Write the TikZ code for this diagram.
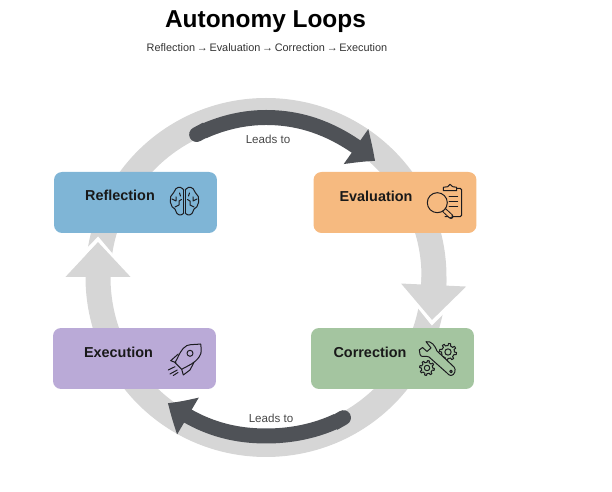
\documentclass[tikz,border=0pt]{standalone}
\usepackage{fontspec}
\setmainfont{Liberation Sans}
\usetikzlibrary{arrows.meta,bending}

\definecolor{ringgray}{HTML}{D6D6D6}
\definecolor{leadgray}{HTML}{4F5257}
\definecolor{iconink}{HTML}{1C1C20}
\definecolor{reflblue}{HTML}{7FB5D6}
\definecolor{evalorange}{HTML}{F6BA80}
\definecolor{corrgreen}{HTML}{A4C5A0}
\definecolor{execpurple}{HTML}{BAAAD7}

\newcommand{\gearicon}[4]{% x, y, radius, fill
    \draw[iconline,fill=#4] plot[domain=0:360,samples=97] ({#1+(#3+0.14*#3*(sin(8*\x)>0?1:-1))*cos(\x)},{#2+(#3+0.14*#3*(sin(8*\x)>0?1:-1))*sin(\x)}) -- cycle;
    \draw[iconline] (#1,#2) circle[radius=0.42*#3];
}

\begin{document}
\begin{tikzpicture}[x=0.02cm,y=-0.02cm]
    \tikzset{stagebox/.style={rectangle,rounded corners=0.16cm,minimum width=3.26cm,minimum height=1.22cm,inner sep=0pt}}
    \tikzset{stagename/.style={font=\fontsize{8.2}{10}\selectfont\bfseries,text=black!90,inner sep=0pt}}
    \tikzset{leadtext/.style={font=\fontsize{6.6}{8}\selectfont,text=black!72,inner sep=0pt}}
    \tikzset{iconline/.style={draw=iconink,line width=0.02cm,line join=round,line cap=round}}
    \tikzstyle{ringarc}=[draw=ringgray,line width=0.5cm]
    \tikzstyle{ringhead}=[draw=ringgray,line width=0.5cm,-{Triangle[width=1.26cm,length=0.7cm,fill=ringgray]}]
    \tikzstyle{notch}=[draw=white,line width=0.08cm,line join=miter]
    \tikzstyle{leadarc}=[draw=leadgray,line width=0.3cm,{Round Cap[]}-{Triangle[width=0.82cm,length=0.48cm,fill=leadgray,bend]}]
    \useasboundingbox (0,0) rectangle (612,492);

    \node[font=\fontsize{13.9}{17}\selectfont\bfseries,text=black,inner sep=0pt] (TITLE) at (265.5,22) {Autonomy Loops};
    \node[font=\fontsize{6.2}{8}\selectfont,text=black!80,inner sep=0pt] (SUB) at (267,48) {\spaceskip=1pt Reflection → Evaluation → Correction → Execution};

    % gray ring
    \coordinate (ringW) at (98,277);
    \coordinate (ringN) at (266,110.5);
    \coordinate (ringE) at (434,277);
    \coordinate (ringS) at (266,444.5);
    \draw[ringarc] (ringW) to[out=90,in=180] (ringN) to[out=0,in=90] (ringE) to[out=-90,in=0] (ringS) to[out=180,in=-90] (ringW);

    % notches in the ring, then the two gray heads
    \coordinate (tipE) at (432,320);
    \coordinate (tipW) at (98,242);
    \draw[notch] (412.4,298.2)--(432,322.5)--(451.4,303.4);
    \draw[notch] (78.6,259.6)--(98,239.5)--(119.5,265);
    \draw[ringhead] (ringE)--(tipE);
    \draw[ringhead] (ringW)--(tipW);

    % dark arrows
    \coordinate (leadAs) at (190,138);
    \coordinate (leadAm) at (266,117.5);
    \coordinate (leadAe) at (375,161);
    \draw[leadarc] (leadAs) to[out=29,in=180,looseness=0.87] (leadAm) to[out=0,in=140,looseness=0.92] (leadAe);
    \coordinate (leadBs) at (350,414);
    \coordinate (leadBm) at (266,436);
    \coordinate (leadBe) at (168,403);
    \draw[leadarc] (leadBs) to[out=211,in=0,looseness=0.87] (leadBm) to[out=180,in=323,looseness=0.92] (leadBe);
    \node[leadtext] (LEADA) at (268,139) {Leads to};
    \node[leadtext] (LEADB) at (271,418) {Leads to};

    % stages
    \node[stagebox,fill=reflblue] (REFL) at (135.5,202.5) {};
    \node[stagebox,fill=evalorange] (EVAL) at (395,202.5) {};
    \node[stagebox,fill=corrgreen] (CORR) at (392.5,358.5) {};
    \node[stagebox,fill=execpurple] (EXEC) at (134.5,358.5) {};
    \node[stagename] (REFLNAME) at (120,195) {Reflection};
    \node[stagename] (EVALNAME) at (376,196) {Evaluation};
    \node[stagename] (CORRNAME) at (370,352) {Correction};
    \node[stagename] (EXECNAME) at (118.5,352) {Execution};

    % brain
    \foreach \s in {1,-1}{
        \begin{scope}[shift={(184.5,201)},xscale=\s]
            \draw[iconline] plot[smooth,tension=0.8] coordinates {(-0.8,-11) (-4,-13.6) (-8.5,-12.4) (-10.8,-8.5) (-13.8,-4.5) (-14.2,1) (-12.4,5.8) (-9.6,8) (-7.6,12.4) (-3.6,14) (-0.8,12)};
            \draw[iconline] (-0.8,-11)--(-0.8,12);
            \draw[iconline] (-12.5,-2)--(-8.5,0)--(-8.5,-4);
            \draw[iconline] (-9.6,6)--(-5.5,4)--(-5.5,0)--(-3,-1.5);
            \draw[iconline] (-5,-8)--(-4,-5);
        \end{scope}
    }

    % clipboard and magnifier
    \draw[iconline,rounded corners=0.03cm] (443.3,188.3)--(461.7,188.3)--(461.7,216.7)--(445,216.7);
    \draw[iconline,fill=evalorange] (443.3,190.7)--(443.3,187.3)--(447.7,186.7)--(450,184.3)--(452.7,186.7)--(456.7,187.3)--(456.7,190.7)--cycle;
    \draw[iconline] (449,197)--(457.7,197);
    \draw[iconline] (449,202)--(457.7,202);
    \draw[iconline] (449,207)--(457.7,207);
    \draw[iconink,line width=0.1cm,line cap=round] (444,210)--(451,216.5);
    \draw[evalorange,line width=0.06cm,line cap=round] (444.6,210.6)--(450.6,216.1);
    \draw[iconline,fill=evalorange] (437.3,202.7) circle[radius=10];

    % rocket
    \draw[iconline,fill=execpurple] (178.3,354)--(170.7,360.7)--(176,362.7);
    \draw[iconline,fill=execpurple] (194,362.3)--(190,370)--(183.3,375)--(181.7,369.3);
    \draw[iconline] (200.7,344) to[out=190,in=50] (183.3,348.3) to[out=230,in=60] (175,362.7)--(181.7,369.3) to[out=30,in=235] (199.3,356.7) to[out=55,in=275] (200.7,344);
    \draw[iconline] (190,353.3) circle[radius=3];
    \draw[iconline] (168.3,370)--(175,366.7);
    \draw[iconline] (170,374)--(177.3,370);
    \draw[iconline] (173.3,375.5)--(178,372.5);

    % wrench and gears
    \gearicon{448}{352}{7.5}{corrgreen}
    \gearicon{427}{368}{6.5}{corrgreen}
    \draw[iconline,fill=corrgreen] (426,341.7) to[out=10,in=110] (437,351)--(454,367) to[out=-45,in=0] (451,375.5) to[out=180,in=-45] (447,373)--(429,357) to[out=135,in=-10] (423,356.5) to[out=190,in=270] (419.3,350)--(422.5,347.5)--(427,351.5)--(431,348)--cycle;
    \draw[iconline] (451,371.5) circle[radius=1.3];
\end{tikzpicture}
\end{document}
